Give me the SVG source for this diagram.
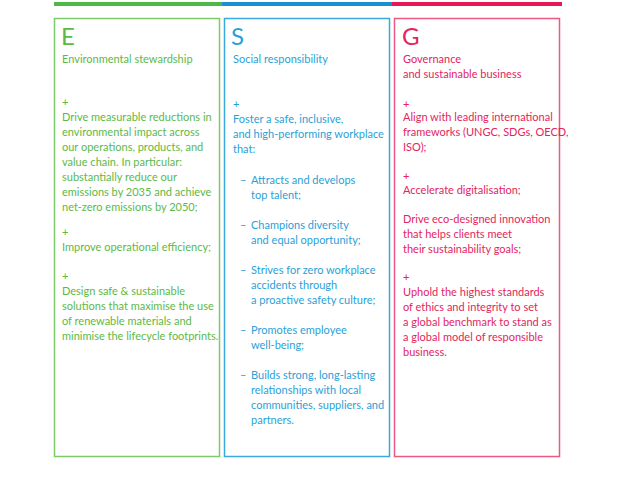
<svg xmlns="http://www.w3.org/2000/svg" width="620" height="492" viewBox="0 0 620 492">
<style>
text{font-family:Lato,"Open Sans",sans-serif;font-size:11px}
.big{font-size:24px}
.e{fill:#5cb947}.s{fill:#2a9fd8}.g{fill:#e5245e}
.box{fill:none;stroke-width:1.5}
</style>
<rect width="620" height="492" fill="#fff"/>
<rect x="54" y="2" width="168" height="4" fill="#4cb848"/>
<rect x="222" y="2" width="170" height="4" fill="#1b8fd0"/>
<rect x="392" y="2" width="170" height="4" fill="#e5195a"/>
<g id="E">
<rect class="box" x="54.5" y="18.5" width="165" height="438" stroke="#7dcb6b"/>
<text class="e big" x="61" y="45">E</text>
<text class="e" x="62" y="63">Environmental stewardship</text>
<text class="e" x="62" y="106">+</text>
<text class="e" x="62" y="121">Drive measurable reductions in</text>
<text class="e" x="62" y="136">environmental impact across</text>
<text class="e" x="62" y="151">our operations, products, and</text>
<text class="e" x="62" y="166">value chain. In particular:</text>
<text class="e" x="62" y="181">substantially reduce our</text>
<text class="e" x="62" y="196">emissions by 2035 and achieve</text>
<text class="e" x="62" y="211">net-zero emissions by 2050;</text>
<text class="e" x="62" y="236">+</text>
<text class="e" x="62" y="251">Improve operational efficiency;</text>
<text class="e" x="62" y="280">+</text>
<text class="e" x="62" y="295">Design safe &amp; sustainable</text>
<text class="e" x="62" y="310">solutions that maximise the use</text>
<text class="e" x="62" y="325">of renewable materials and</text>
<text class="e" x="62" y="340">minimise the lifecycle footprints.</text>
</g>
<g id="S">
<rect class="box" x="224.5" y="18.5" width="165" height="438" stroke="#3aa8dc"/>
<text class="s big" x="231" y="45">S</text>
<text class="s" x="233" y="63">Social responsibility</text>
<text class="s" x="233" y="108">+</text>
<text class="s" x="233" y="123">Foster a safe, inclusive,</text>
<text class="s" x="233" y="138">and high-performing workplace</text>
<text class="s" x="233" y="153">that:</text>
<text class="s" x="240" y="184">–</text>
<text class="s" x="251" y="184">Attracts and develops</text>
<text class="s" x="251" y="199">top talent;</text>
<text class="s" x="240" y="229">–</text>
<text class="s" x="251" y="229">Champions diversity</text>
<text class="s" x="251" y="244">and equal opportunity;</text>
<text class="s" x="240" y="274">–</text>
<text class="s" x="251" y="274">Strives for zero workplace</text>
<text class="s" x="251" y="289">accidents through</text>
<text class="s" x="251" y="304">a proactive safety culture;</text>
<text class="s" x="240" y="334">–</text>
<text class="s" x="251" y="334">Promotes employee</text>
<text class="s" x="251" y="349">well-being;</text>
<text class="s" x="240" y="379">–</text>
<text class="s" x="251" y="379">Builds strong, long-lasting</text>
<text class="s" x="251" y="394">relationships with local</text>
<text class="s" x="251" y="409">communities, suppliers, and</text>
<text class="s" x="251" y="424">partners.</text>
</g>
<g id="G">
<rect class="box" x="394.5" y="18.5" width="165" height="438" stroke="#ea5a85"/>
<text class="g big" x="402" y="45">G</text>
<text class="g" x="403" y="63">Governance</text>
<text class="g" x="403" y="78">and sustainable business</text>
<text class="g" x="403" y="108">+</text>
<text class="g" x="403" y="121">Align with leading international</text>
<text class="g" x="403" y="136">frameworks (UNGC, SDGs, OECD,</text>
<text class="g" x="403" y="151">ISO);</text>
<text class="g" x="403" y="180">+</text>
<text class="g" x="403" y="194">Accelerate digitalisation;</text>
<text class="g" x="403" y="223">Drive eco-designed innovation</text>
<text class="g" x="403" y="238">that helps clients meet</text>
<text class="g" x="403" y="253">their sustainability goals;</text>
<text class="g" x="403" y="281">+</text>
<text class="g" x="403" y="296">Uphold the highest standards</text>
<text class="g" x="403" y="311">of ethics and integrity to set</text>
<text class="g" x="403" y="326">a global benchmark to stand as</text>
<text class="g" x="403" y="341">a global model of responsible</text>
<text class="g" x="403" y="356">business.</text>
</g>
<g id="connectors"/>
</svg>
